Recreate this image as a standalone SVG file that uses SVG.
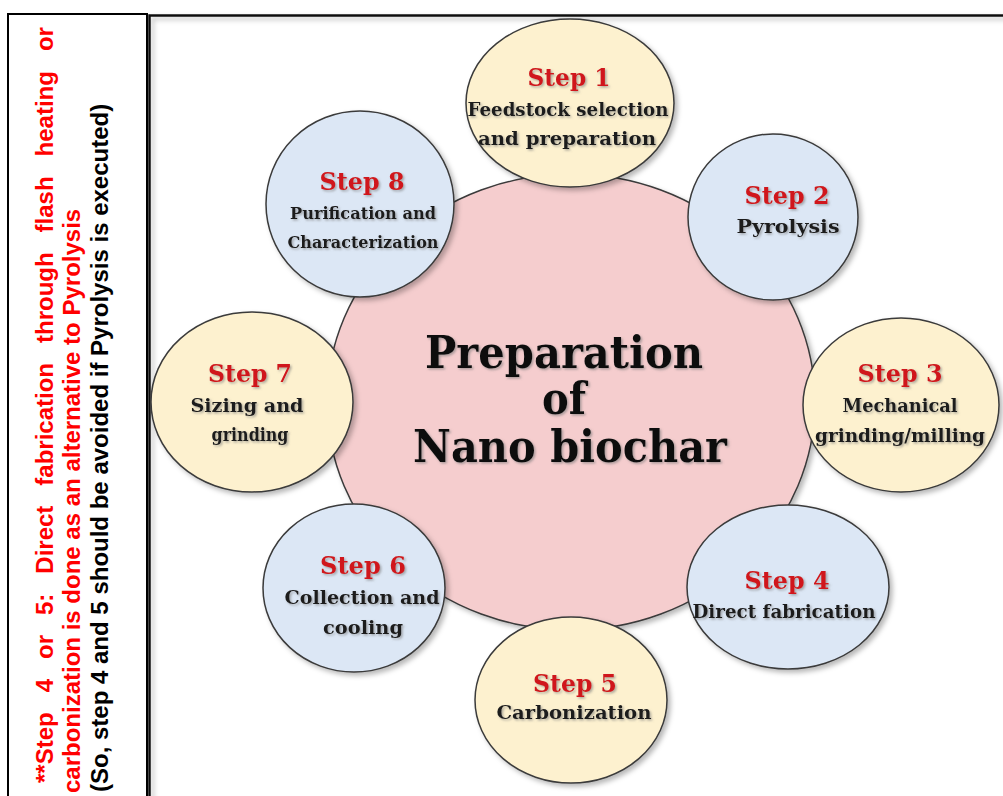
<svg xmlns="http://www.w3.org/2000/svg" width="1003" height="796" viewBox="0 0 1003 796">
<defs>
<filter id="sh" x="-10%" y="-10%" width="125%" height="125%">
<feDropShadow dx="3" dy="3" stdDeviation="2.5" flood-color="#000" flood-opacity="0.28"/>
</filter>
<filter id="tsh" x="-10%" y="-30%" width="125%" height="170%">
<feDropShadow dx="1.5" dy="1.5" stdDeviation="1.2" flood-color="#777" flood-opacity="0.6"/>
</filter>
<style>
.beige{fill:#FDF1CF;stroke:#3a3a3a;stroke-width:1.5}
.blue{fill:#DCE7F5;stroke:#3a3a3a;stroke-width:1.5}
.pink{fill:#F5CDCE;stroke:#3a3a3a;stroke-width:1.5}
.lbl{font-family:"DejaVu Serif","Liberation Serif",serif;font-weight:bold;font-size:25px;fill:#D0191C;text-anchor:middle}
.dsc{font-family:"DejaVu Serif","Liberation Serif",serif;font-weight:bold;font-size:18.5px;fill:#1a1a1a;text-anchor:middle}
.dsm{font-size:16px}
.ttl{font-family:"DejaVu Serif","Liberation Serif",serif;font-weight:bold;font-size:44px;fill:#111;text-anchor:middle}
.note{font-family:"Liberation Sans",Arial,sans-serif;font-weight:bold;font-size:24px}
</style>
</defs>
<rect x="0" y="0" width="1003" height="796" fill="#fff"/>

<g id="note-box">
<rect x="8" y="14" width="139" height="800" fill="#fff" stroke="#000" stroke-width="2"/>
<g transform="rotate(-90)">
<text class="note" y="53" fill="#FF0000"><tspan x="-783">**Step</tspan><tspan x="-692.3">4</tspan><tspan x="-659">or</tspan><tspan x="-615">5:</tspan><tspan x="-573.7">Direct</tspan><tspan x="-485.7">fabrication</tspan><tspan x="-343">through</tspan><tspan x="-232.4">flash</tspan><tspan x="-156.4">heating</tspan><tspan x="-51.1">or</tspan></text>
<text class="note" x="-793" y="80" fill="#FF0000">carbonization is done as an alternative to Pyrolysis</text>
<text class="note" x="-792" y="108" fill="#000">(So, step 4 and 5 should be avoided if Pyrolysis is executed)</text>
</g>
</g>

<g id="frame">
<rect x="149.5" y="15.5" width="870" height="800" fill="none" stroke="#111" stroke-width="2.5" filter="url(#sh)"/>
</g>

<g id="connectors"></g>

<g id="center">
<ellipse class="pink" cx="571" cy="402" rx="244" ry="228" filter="url(#sh)"/>
<g filter="url(#tsh)">
<text class="ttl" x="564" y="368" textLength="278" lengthAdjust="spacingAndGlyphs">Preparation</text>
<text class="ttl" x="564" y="414" textLength="44" lengthAdjust="spacingAndGlyphs">of</text>
<text class="ttl" x="570" y="462" textLength="314" lengthAdjust="spacingAndGlyphs">Nano biochar</text>
</g>
</g>

<g id="step1">
<ellipse class="beige" cx="570" cy="103" rx="104" ry="84" filter="url(#sh)"/>
<g filter="url(#tsh)">
<text class="lbl" x="569" y="86" textLength="83" lengthAdjust="spacingAndGlyphs">Step 1</text>
<text class="dsc" x="568" y="116" textLength="201" lengthAdjust="spacingAndGlyphs">Feedstock selection</text>
<text class="dsc" x="567" y="145" textLength="178" lengthAdjust="spacingAndGlyphs">and preparation</text>
</g>
</g>

<g id="step2">
<ellipse class="blue" cx="773" cy="217" rx="85" ry="83" filter="url(#sh)"/>
<g filter="url(#tsh)">
<text class="lbl" x="787" y="204" textLength="85" lengthAdjust="spacingAndGlyphs">Step 2</text>
<text class="dsc" x="788" y="233" textLength="103" lengthAdjust="spacingAndGlyphs">Pyrolysis</text>
</g>
</g>

<g id="step3">
<ellipse class="beige" cx="901" cy="405" rx="98" ry="87" filter="url(#sh)"/>
<g filter="url(#tsh)">
<text class="lbl" x="900" y="382" textLength="85" lengthAdjust="spacingAndGlyphs">Step 3</text>
<text class="dsc" x="900" y="412" textLength="115" lengthAdjust="spacingAndGlyphs">Mechanical</text>
<text class="dsc" x="900" y="442" textLength="170" lengthAdjust="spacingAndGlyphs">grinding/milling</text>
</g>
</g>

<g id="step4">
<ellipse class="blue" cx="788" cy="587" rx="101" ry="82" filter="url(#sh)"/>
<g filter="url(#tsh)">
<text class="lbl" x="787" y="589" textLength="85" lengthAdjust="spacingAndGlyphs">Step 4</text>
<text class="dsc" x="784" y="618" textLength="183" lengthAdjust="spacingAndGlyphs">Direct fabrication</text>
</g>
</g>

<g id="step5">
<ellipse class="beige" cx="571" cy="700" rx="96" ry="83" filter="url(#sh)"/>
<g filter="url(#tsh)">
<text class="lbl" x="575" y="692" textLength="84" lengthAdjust="spacingAndGlyphs">Step 5</text>
<text class="dsc" x="574" y="719" textLength="155" lengthAdjust="spacingAndGlyphs">Carbonization</text>
</g>
</g>

<g id="step6">
<ellipse class="blue" cx="354" cy="588" rx="91" ry="84" filter="url(#sh)"/>
<g filter="url(#tsh)">
<text class="lbl" x="363" y="574" textLength="86" lengthAdjust="spacingAndGlyphs">Step 6</text>
<text class="dsc" x="362" y="604" textLength="155" lengthAdjust="spacingAndGlyphs">Collection and</text>
<text class="dsc" x="363" y="634" textLength="80" lengthAdjust="spacingAndGlyphs">cooling</text>
</g>
</g>

<g id="step7">
<ellipse class="beige" cx="252" cy="402" rx="101" ry="90" filter="url(#sh)"/>
<g filter="url(#tsh)">
<text class="lbl" x="250" y="382" textLength="84" lengthAdjust="spacingAndGlyphs">Step 7</text>
<text class="dsc" x="247" y="412" textLength="113" lengthAdjust="spacingAndGlyphs">Sizing and</text>
<text class="dsc" x="250" y="441" textLength="77" lengthAdjust="spacingAndGlyphs">grinding</text>
</g>
</g>

<g id="step8">
<ellipse class="blue" cx="360" cy="204" rx="94" ry="93" filter="url(#sh)"/>
<g filter="url(#tsh)">
<text class="lbl" x="362" y="190" textLength="85" lengthAdjust="spacingAndGlyphs">Step 8</text>
<text class="dsc dsm" x="363" y="219" textLength="146" lengthAdjust="spacingAndGlyphs">Purification and</text>
<text class="dsc dsm" x="363" y="248" textLength="151" lengthAdjust="spacingAndGlyphs">Characterization</text>
</g>
</g>
</svg>
